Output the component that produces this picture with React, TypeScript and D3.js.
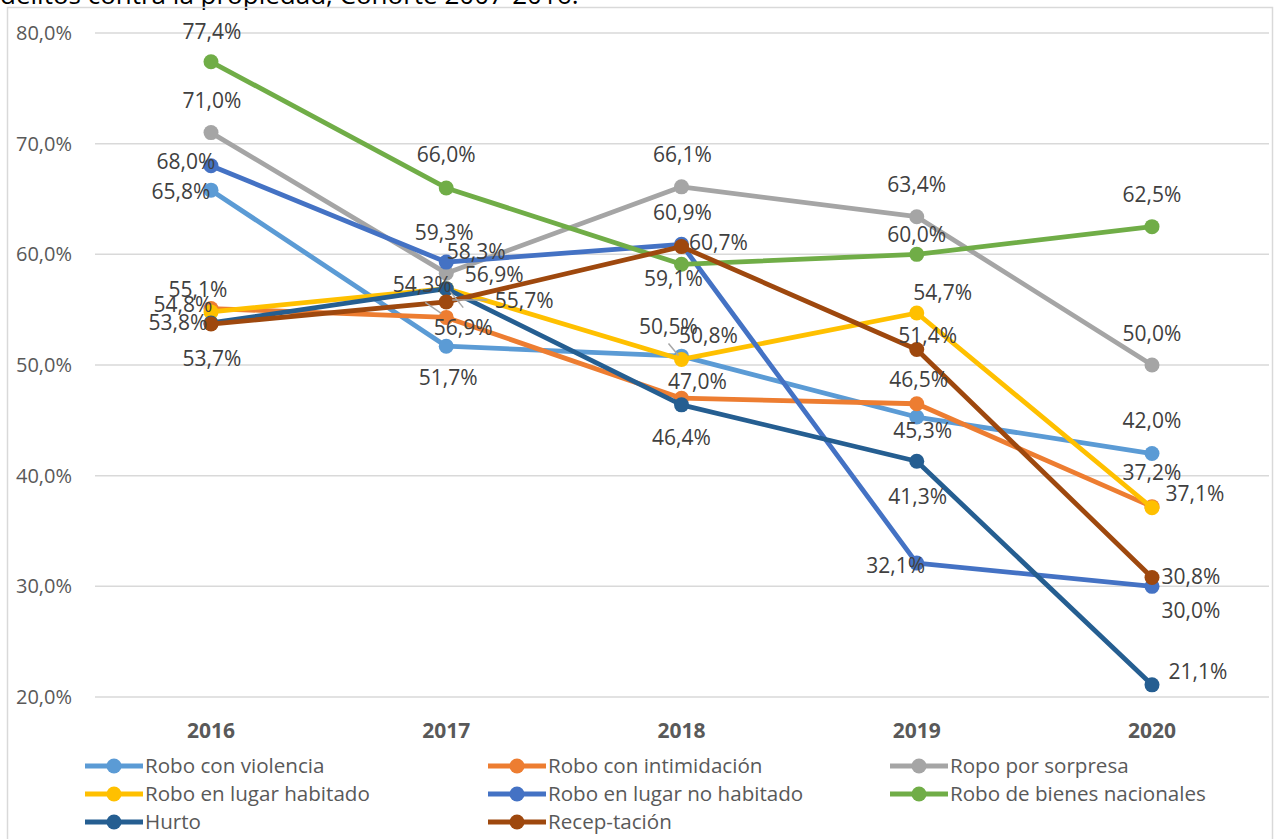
import React from "react";
import * as d3 from "d3";

const years = ["2016", "2017", "2018", "2019", "2020"];
const yTicks = [20, 30, 40, 50, 60, 70, 80];

const seriesNames = [
  "Robo con violencia",
  "Robo con intimidación",
  "Ropo por sorpresa",
  "Robo en lugar habitado",
  "Robo en lugar no habitado",
  "Robo de bienes nacionales",
  "Hurto",
  "Recep-tación",
];
const violencia = [65.8, 51.7, 50.8, 45.3, 42.0];
const intimidacion = [55.1, 54.3, 47.0, 46.5, 37.2];
const sorpresa = [71.0, 58.3, 66.1, 63.4, 50.0];
const habitado = [54.8, 56.9, 50.5, 54.7, 37.1];
const noHabitado = [68.0, 59.3, 60.9, 32.1, 30.0];
const bienes = [77.4, 66.0, 59.1, 60.0, 62.5];
const hurto = [53.8, 56.9, 46.4, 41.3, 21.1];
const receptacion = [53.7, 55.7, 60.7, 51.4, 30.8];
const seriesValues = [violencia, intimidacion, sorpresa, habitado, noHabitado, bienes, hurto, receptacion];

const colors = ["#5B9BD5", "#ED7D31", "#A5A5A5", "#FFC000", "#4472C4", "#70AD47", "#255E91", "#9E480E"];

// label offsets (dx, dy) from each point, per series per year
const labelOffsets: [number, number][][] = [
  [[-30, 2], [2, 31], [27, -20], [6, 14], [0, -33]],
  [[-13, -19], [-24, -33], [16, -17], [2, -24], [0, -34]],
  [[1, -32], [30, -21], [1, -32], [0, -32], [0, -31]],
  [[-28, -7], [48, -14], [-13, -33], [26, -20], [43, -14]],
  [[-25, -4], [-2, -29], [1, -32], [-21, 3], [39, 24]],
  [[1, -30], [0, -33], [-8, 14], [0, -20], [0, -32]],
  [[-33, 0], [17, 39], [0, 33], [1, 35], [46, -13]],
  [[1, 35], [78, -1], [37, -4], [11, -14], [39, -1]],
];
// leader lines: series, year index, start/end offsets relative to the point
const leaders: [number, number, number, number, number, number][] = [
  [1, 1, -21, -15, -5, -4],
  [6, 1, 17, 19, 4, 3],
  [7, 1, 41, -2, 6, -2],
  [3, 2, -13, -16, -3, -4],
];

const W = 1275;
const H = 839;
const fontFamily = "'Open Sans', 'Liberation Sans', Arial, sans-serif";

export default function App() {
  const x = d3.scalePoint<string>().domain(years).range([211, 1152]);
  const y = d3.scaleLinear().domain([20, 80]).range([697, 33]);
  const line = d3
    .line<number>()
    .x((_, i) => x(years[i]) as number)
    .y((d) => y(d));
  const fmt = (v: number) => v.toFixed(1).replace(".", ",") + "%";

  const legendCols = [85, 488, 890];
  const legendRows = [766, 794, 822];

  return (
    <svg width={W} height={H} style={{ position: "absolute", left: 0, top: 0, background: "#fff" }}>
      <rect x={0} y={0} width={W} height={H} fill="#fff" />
      <text x={0} y={4} fontSize={26} fontFamily={fontFamily} fill="#000">
        delitos contra la propiedad, Cohorte 2007-2016.
      </text>
      <rect x={7.5} y={7.5} width={1265} height={840} fill="none" stroke="#d9d9d9" strokeWidth={1.5} />
      {yTicks.map((t) => (
        <g key={t}>
          <line x1={95} x2={1269} y1={y(t)} y2={y(t)} stroke="#d9d9d9" strokeWidth={1.5} />
          <text x={72} y={y(t)} dy="0.35em" textAnchor="end" fontSize={20} fontFamily={fontFamily} fill="#595959">
            {fmt(t)}
          </text>
        </g>
      ))}
      {years.map((yr) => (
        <text key={yr} x={x(yr)} y={731} dy="0.35em" textAnchor="middle" fontSize={21} fontWeight="bold" fontFamily={fontFamily} fill="#595959">
          {yr}
        </text>
      ))}
      {seriesValues.map((vals, s) => (
        <g key={s}>
          <path d={line(vals) || ""} fill="none" stroke={colors[s]} strokeWidth={4.8} strokeLinejoin="round" />
          {vals.map((v, i) => (
            <circle key={i} cx={x(years[i])} cy={y(v)} r={7.5} fill={colors[s]} />
          ))}
        </g>
      ))}
      {leaders.map(([s, i, x1, y1, x2, y2], k) => {
        const px = x(years[i]) as number;
        const py = y(seriesValues[s][i]);
        return (
          <line key={k} x1={px + x1} y1={py + y1} x2={px + x2} y2={py + y2} stroke="#a6a6a6" strokeWidth={1.5} />
        );
      })}
      {seriesValues.map((vals, s) => (
        <g key={"l" + s}>
          {vals.map((v, i) => (
            <text
              key={i}
              x={(x(years[i]) as number) + labelOffsets[s][i][0]}
              y={y(v) + labelOffsets[s][i][1]}
              dy="0.35em"
              textAnchor="middle"
              fontSize={21}
              fontFamily={fontFamily}
              fill="#404040"
            >
              {fmt(v)}
            </text>
          ))}
        </g>
      ))}
      {seriesNames.map((name, s) => {
        const cx = legendCols[s % 3];
        const cy = legendRows[Math.floor(s / 3)];
        return (
          <g key={"lg" + s}>
            <line x1={cx} x2={cx + 58} y1={cy} y2={cy} stroke={colors[s]} strokeWidth={4.8} />
            <circle cx={cx + 29} cy={cy} r={7.5} fill={colors[s]} />
            <text x={cx + 60} y={cy} dy="0.35em" fontSize={20.6} fontFamily={fontFamily} fill="#595959">
              {name}
            </text>
          </g>
        );
      })}
    </svg>
  );
}
